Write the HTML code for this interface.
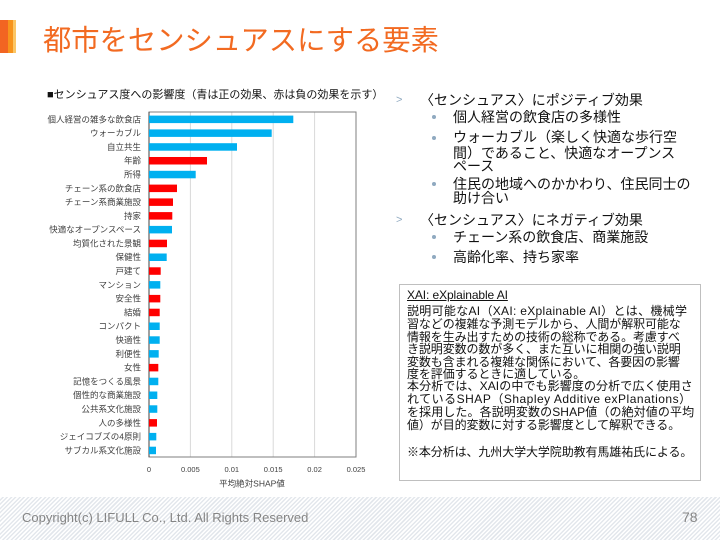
<!DOCTYPE html>
<html><head><meta charset="utf-8">
<style>
html,body{margin:0;padding:0;}
body{width:720px;height:540px;position:relative;overflow:hidden;background:#fff;font-family:"Liberation Sans","Noto Sans CJK JP",sans-serif;}
.abs{position:absolute;white-space:nowrap;}
.r{font-size:14px;color:#111;line-height:16px;height:16px;}
.b{font-size:12px;color:#111;line-height:13px;height:13px;letter-spacing:-0.1px;}
.arr{position:absolute;font-size:11px;color:#8fa9c0;line-height:16px;}
.dot{position:absolute;width:4px;height:4px;border-radius:2px;background:#8fa9c0;}
</style></head><body>
<!-- header bar -->
<div class="abs" style="left:0;top:20px;width:8px;height:33px;background:#f26522;"></div>
<div class="abs" style="left:8px;top:20px;width:5px;height:33px;background:#f7941d;"></div>
<div class="abs" style="left:13px;top:20px;width:3px;height:33px;background:#fbc666;"></div>
<div class="abs" style="left:43px;top:23px;font-size:28.3px;line-height:34px;color:#f26a21;">都市をセンシュアスにする要素</div>

<div class="abs" style="left:47px;top:88px;font-size:11px;line-height:14px;color:#111;">■センシュアス度への影響度（青は正の効果、赤は負の効果を示す）</div>

<svg class="abs" style="left:0;top:0" width="720" height="540" viewBox="0 0 720 540">
<g stroke="#d9d9d9" stroke-width="1">
<line x1="190.4" y1="112" x2="190.4" y2="457"/>
<line x1="231.8" y1="112" x2="231.8" y2="457"/>
<line x1="273.2" y1="112" x2="273.2" y2="457"/>
<line x1="314.6" y1="112" x2="314.6" y2="457"/>
</g>
<rect x="149" y="112" width="207" height="345" fill="none" stroke="#7f7f7f" stroke-width="1"/>
<line x1="149" y1="112" x2="149" y2="457" stroke="#404040" stroke-width="1"/>
<g font-size="7.5" fill="#404040" text-anchor="middle" font-family="Liberation Sans, Noto Sans CJK JP, sans-serif">
<text x="149" y="472">0</text>
<text x="190.4" y="472">0.005</text>
<text x="231.8" y="472">0.01</text>
<text x="273.2" y="472">0.015</text>
<text x="314.6" y="472">0.02</text>
<text x="356" y="472">0.025</text>
</g>
<text x="252" y="486.5" font-size="8.5" fill="#404040" text-anchor="middle" font-family="Liberation Sans, Noto Sans CJK JP, sans-serif">平均絶対SHAP値</text>
<g font-size="8.5" fill="#404040" text-anchor="end" font-family="Liberation Sans, Noto Sans CJK JP, sans-serif">
<text x="141" y="122.3">個人経営の雑多な飲食店</text>
<rect x="149" y="115.6" width="144.3" height="7.5" fill="#00b0f0"/>
<text x="141" y="136.1">ウォーカブル</text>
<rect x="149" y="129.4" width="122.7" height="7.5" fill="#00b0f0"/>
<text x="141" y="149.9">自立共生</text>
<rect x="149" y="143.2" width="88" height="7.5" fill="#00b0f0"/>
<text x="141" y="163.7">年齢</text>
<rect x="149" y="157" width="58" height="7.5" fill="#ff0000"/>
<text x="141" y="177.5">所得</text>
<rect x="149" y="170.8" width="46.7" height="7.5" fill="#00b0f0"/>
<text x="141" y="191.3">チェーン系の飲食店</text>
<rect x="149" y="184.6" width="28" height="7.5" fill="#ff0000"/>
<text x="141" y="205.1">チェーン系商業施設</text>
<rect x="149" y="198.4" width="24" height="7.5" fill="#ff0000"/>
<text x="141" y="218.8">持家</text>
<rect x="149" y="212.1" width="23.3" height="7.5" fill="#ff0000"/>
<text x="141" y="232.6">快適なオープンスペース</text>
<rect x="149" y="225.9" width="23" height="7.5" fill="#00b0f0"/>
<text x="141" y="246.4">均質化された景観</text>
<rect x="149" y="239.7" width="18" height="7.5" fill="#ff0000"/>
<text x="141" y="260.2">保健性</text>
<rect x="149" y="253.5" width="17.7" height="7.5" fill="#00b0f0"/>
<text x="141" y="274">戸建て</text>
<rect x="149" y="267.3" width="11.7" height="7.5" fill="#ff0000"/>
<text x="141" y="287.8">マンション</text>
<rect x="149" y="281.1" width="11.3" height="7.5" fill="#00b0f0"/>
<text x="141" y="301.6">安全性</text>
<rect x="149" y="294.9" width="11.3" height="7.5" fill="#ff0000"/>
<text x="141" y="315.4">結婚</text>
<rect x="149" y="308.7" width="10.7" height="7.5" fill="#ff0000"/>
<text x="141" y="329.2">コンパクト</text>
<rect x="149" y="322.5" width="10.7" height="7.5" fill="#00b0f0"/>
<text x="141" y="343">快適性</text>
<rect x="149" y="336.3" width="10.7" height="7.5" fill="#00b0f0"/>
<text x="141" y="356.8">利便性</text>
<rect x="149" y="350.1" width="9.7" height="7.5" fill="#00b0f0"/>
<text x="141" y="370.6">女性</text>
<rect x="149" y="363.9" width="9.3" height="7.5" fill="#ff0000"/>
<text x="141" y="384.4">記憶をつくる風景</text>
<rect x="149" y="377.7" width="9.3" height="7.5" fill="#00b0f0"/>
<text x="141" y="398.2">個性的な商業施設</text>
<rect x="149" y="391.5" width="8.3" height="7.5" fill="#00b0f0"/>
<text x="141" y="412">公共系文化施設</text>
<rect x="149" y="405.3" width="8.3" height="7.5" fill="#00b0f0"/>
<text x="141" y="425.8">人の多様性</text>
<rect x="149" y="419.1" width="8" height="7.5" fill="#ff0000"/>
<text x="141" y="439.6">ジェイコブズの4原則</text>
<rect x="149" y="432.9" width="7.3" height="7.5" fill="#00b0f0"/>
<text x="141" y="453.4">サブカル系文化施設</text>
<rect x="149" y="446.7" width="7" height="7.5" fill="#00b0f0"/>
</g>
</svg>

<!-- right bullets -->
<div class="arr" style="left:396px;top:92px;">&gt;</div>
<div class="abs r" style="left:420px;top:92px;">〈センシュアス〉にポジティブ効果</div>
<div class="dot" style="left:432px;top:115px;"></div>
<div class="abs r" style="left:453px;top:109px;">個人経営の飲食店の多様性</div>
<div class="dot" style="left:432px;top:136px;"></div>
<div class="abs r" style="left:453px;top:129px;">ウォーカブル（楽しく快適な歩行空</div>
<div class="abs r" style="left:453px;top:145px;">間）であること、快適なオープンス</div>
<div class="abs r" style="left:453px;top:158px;">ペース</div>
<div class="dot" style="left:432px;top:182px;"></div>
<div class="abs r" style="left:453px;top:176px;">住民の地域へのかかわり、住民同士の</div>
<div class="abs r" style="left:453px;top:190px;">助け合い</div>
<div class="arr" style="left:396px;top:212px;">&gt;</div>
<div class="abs r" style="left:420px;top:212px;">〈センシュアス〉にネガティブ効果</div>
<div class="dot" style="left:432px;top:235px;"></div>
<div class="abs r" style="left:453px;top:229px;">チェーン系の飲食店、商業施設</div>
<div class="dot" style="left:432px;top:255px;"></div>
<div class="abs r" style="left:453px;top:249px;">高齢化率、持ち家率</div>

<!-- box -->
<div class="abs" style="left:399px;top:284px;width:300px;height:195px;border:1px solid #bfbfbf;"></div>
<div class="abs b" style="left:407px;top:289px;text-decoration:underline;">XAI: eXplainable AI</div>
<div class="abs b" style="left:407px;top:305px;letter-spacing:0.3px;">説明可能なAI（XAI: eXplainable AI）とは、機械学</div>
<div class="abs b" style="left:407px;top:318px;">習などの複雑な予測モデルから、人間が解釈可能な</div>
<div class="abs b" style="left:407px;top:331px;">情報を生み出すための技術の総称である。考慮すべ</div>
<div class="abs b" style="left:407px;top:343px;">き説明変数の数が多く、また互いに相関の強い説明</div>
<div class="abs b" style="left:407px;top:356px;">変数も含まれる複雑な関係において、各要因の影響</div>
<div class="abs b" style="left:407px;top:368px;">度を評価するときに適している。</div>
<div class="abs b" style="left:407px;top:380px;letter-spacing:0.1px;">本分析では、XAIの中でも影響度の分析で広く使用さ</div>
<div class="abs b" style="left:407px;top:393px;letter-spacing:0.5px;">れているSHAP（Shapley Additive exPlanations）</div>
<div class="abs b" style="left:407px;top:406px;letter-spacing:0.1px;">を採用した。各説明変数のSHAP値（の絶対値の平均</div>
<div class="abs b" style="left:407px;top:419px;">値）が目的変数に対する影響度として解釈できる。</div>
<div class="abs b" style="left:407px;top:446px;">※本分析は、九州大学大学院助教有馬雄祐氏による。</div>

<!-- footer -->
<div class="abs" style="left:0;top:497px;width:720px;height:43px;background:repeating-linear-gradient(135deg,#ffffff 0px,#ffffff 1.5px,#e3e7ec 1.5px,#e3e7ec 3px);"></div>
<div class="abs" style="left:22px;top:510px;font-size:13px;line-height:16px;color:#858585;">Copyright(c) LIFULL Co., Ltd. All Rights Reserved</div>
<div class="abs" style="left:682px;top:509px;font-size:14px;line-height:16px;color:#858585;">78</div>
</body></html>
